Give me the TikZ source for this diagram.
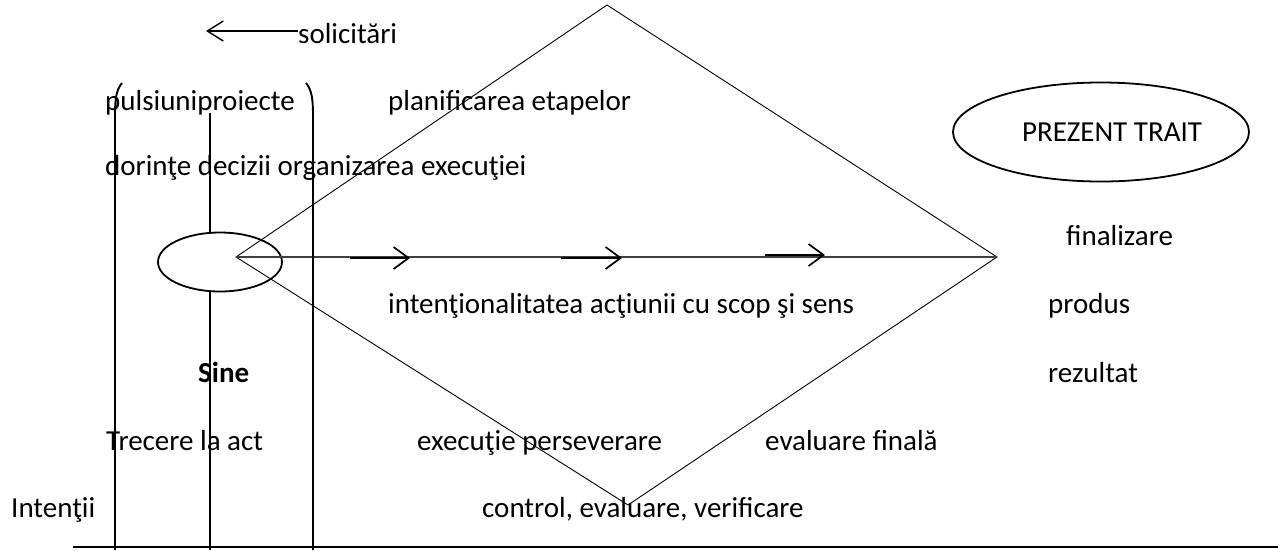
\documentclass[tikz,border=0pt]{standalone}
\usepackage{fontspec}
\setmainfont{Carlito}
\usetikzlibrary{arrows.meta,shapes.geometric}
\begin{document}
\begin{tikzpicture}[x=1pt,y=-1pt,
  lbl/.style={anchor=base west,inner sep=0pt,font=\fontsize{29}{34}\selectfont},
  rule/.style={line width=1.9pt},
  fine/.style={line width=0.9pt},
  axis/.style={line width=2.2pt,black!75},
  barb/.style={-{Straight Barb[length=15pt,width=22pt,line width=1.7pt]},line width=2.6pt},
  oval/.style={draw,ellipse,line width=1.8pt,inner sep=0pt}]
\useasboundingbox (0,0) rectangle (1278,550);

% the self and the present as ovals
\node[oval,minimum width=124pt,minimum height=59pt] (sine) at (220,262) {};
\node[oval,minimum width=296pt,minimum height=99pt,font=\fontsize{29}{34}\selectfont] (prezent) at (1101,132) {\hspace*{22pt}PREZENT TRAIT};

% the action diamond
\coordinate (L) at (236,257);
\coordinate (T) at (607,5);
\coordinate (R) at (997,257);
\coordinate (B) at (628,505);
\draw[fine] (L) -- (T) -- (R) -- (B) -- cycle;

% axis of the action with three arrows
\draw[axis] (L) -- (R);
\coordinate (a1) at (350,258); \coordinate (b1) at (410,258);
\coordinate (a2) at (561,258); \coordinate (b2) at (622,258);
\coordinate (a3) at (765,255); \coordinate (b3) at (825,255);
\draw[barb] (a1) -- (b1);
\draw[barb] (a2) -- (b2);
\draw[barb] (a3) -- (b3);

% the three columns
\coordinate (c1) at (115,550);
\coordinate (c2top) at (210,113);
\coordinate (c2) at (210,550);
\coordinate (c3) at (313,550);
\draw[rule] (122,83) .. controls (116,90) and (115,100) .. (115,116) -- (c1);
\draw[rule] (306,83) .. controls (312,90) and (313,100) .. (313,116) -- (c3);
\draw[rule] (c2top) -- (c2top |- sine.north);
\draw[rule] (c2 |- sine.south) -- (c2);

% base line
\coordinate (g1) at (73,547);
\coordinate (g2) at (1278,547);
\draw[line width=2.4pt] (g1) -- (g2);

% labels
\node[lbl] (sol) at (298,43) {solicitări};
\coordinate (solend) at (206,31);
\draw[line width=1.4pt,-{Straight Barb[length=16pt,width=20pt,line width=1.4pt]}] (sol.west |- solend) -- (solend);

\node[lbl] (puls) at (105,110) {pulsiuniproiecte};
\node[lbl] (plan) at (388,110) {planificarea etapelor};
\node[lbl] (dor) at (105,175) {dorinţe decizii organizarea execuţiei};
\node[lbl] (fin) at (1066,245) {finalizare};
\node[lbl] (intn) at (388,313) {intenţionalitatea acţiunii cu scop şi sens};
\node[lbl] (prod) at (1048,313) {produs};
\node[lbl,font=\fontsize{29}{34}\selectfont\bfseries] (sinelbl) at (198,382) {Sine};
\node[lbl] (rez) at (1048,382) {rezultat};
\node[lbl] (trec) at (106,450) {Trecere la act};
\node[lbl] (exec) at (417,450) {execuţie perseverare};
\node[lbl] (eval) at (765,450) {evaluare finală};
\node[lbl] (inten) at (11,517) {Intenţii};
\node[lbl] (ctrl) at (482,517) {control, evaluare, verificare};
\end{tikzpicture}
\end{document}
